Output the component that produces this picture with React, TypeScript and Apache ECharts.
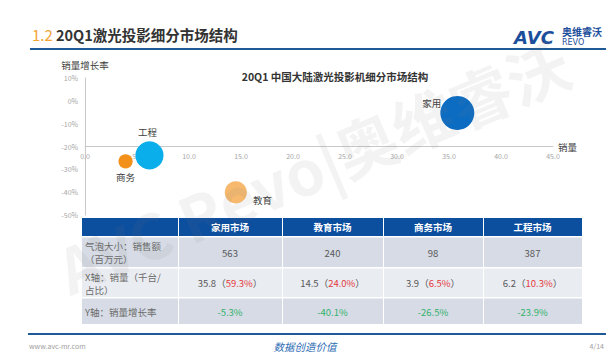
import React, { useEffect, useRef } from "react";
import * as echarts from "echarts";

const markets = ["家用", "教育", "商务", "工程"];
const tableHeaders = ["家用市场", "教育市场", "商务市场", "工程市场"];
const salesVolume = [35.8, 14.5, 3.9, 6.2]; // 千台
const volumeShare = ["59.3%", "24.0%", "6.5%", "10.3%"];
const growthRate = [-5.3, -40.1, -26.5, -23.9]; // %
const salesRevenue = [563, 240, 98, 387]; // 百万元
const rowTitles = [
  ["气泡大小：销售额", "（百万元）"],
  ["X轴：销量（千台/", "占比）"],
  ["Y轴：销量增长率"],
];
const xTicks = { min: 0, max: 45, interval: 5 };
const yTicks = { min: -50, max: 10, interval: 10 };

const bubbleColors = ["#0B6CC2", "#F6B96E", "#F39019", "#0AAEEA"];
const FONT = "'Noto Sans CJK SC', 'Noto Sans', sans-serif";

export default function App() {
  const ref = useRef<HTMLDivElement>(null);
  useEffect(() => {
    if (!ref.current) return;
    const chart = echarts.init(ref.current, null, { renderer: "svg" });

    const labelPos: any[] = [
      { position: "left", distance: -1, offset: [0, -10] },
      { position: "right", distance: 6, offset: [0, 8] },
      { position: "bottom", distance: 4, offset: [0, 0] },
      { position: "top", distance: 5, offset: [-2, 0] },
    ];

    const series = markets.map((m, i) => ({
      type: "scatter",
      name: m,
      data: [[salesVolume[i], growthRate[i], salesRevenue[i]]],
      symbolSize: (d: number[]) => Math.sqrt(d[2]) * 1.43,
      itemStyle: { color: bubbleColors[i], opacity: 1 },
      label: {
        show: true,
        formatter: m,
        color: "#404040",
        fontSize: 9.5,
        fontFamily: FONT,
        ...labelPos[i],
      },
      z: 3,
    }));

    // table geometry
    const colX = [82, 178, 282, 383, 483, 582];
    const rowY = [218, 236, 267, 297, 324];
    const rowBg = ["#D6DBE5", "#E9ECF1", "#D6DBE5"];
    const g: any[] = [];
    for (let c = 0; c < 5; c++) {
      g.push({
        type: "rect",
        shape: { x: colX[c] + (c ? 1 : 0), y: rowY[0], width: colX[c + 1] - colX[c] - (c ? 1 : 0), height: rowY[1] - rowY[0] },
        style: { fill: "#0D4F9F" },
      });
      if (c > 0) {
        g.push({
          type: "text",
          x: (colX[c] + colX[c + 1]) / 2,
          y: (rowY[0] + rowY[1]) / 2,
          style: { text: tableHeaders[c - 1], fill: "#fff", fontSize: 9.5, fontWeight: "bold", fontFamily: FONT, align: "center", verticalAlign: "middle" },
        });
      }
    }
    for (let r = 0; r < 3; r++) {
      for (let c = 0; c < 5; c++) {
        g.push({
          type: "rect",
          shape: { x: colX[c] + (c ? 1 : 0), y: rowY[r + 1] + 1.5, width: colX[c + 1] - colX[c] - (c ? 1 : 0), height: rowY[r + 2] - rowY[r + 1] - 1.5 },
          style: { fill: rowBg[r] },
        });
      }
      const lines = rowTitles[r];
      const cy = (rowY[r + 1] + rowY[r + 2]) / 2 + 1;
      lines.forEach((t, li) => {
        g.push({
          type: "text",
          x: 85,
          y: cy + (lines.length === 2 ? (li === 0 ? -6.5 : 6.5) : 0),
          style: { text: t, fill: "#6B6B6B", fontSize: 9.5, fontFamily: FONT, align: "left", verticalAlign: "middle" },
        });
      });
      for (let c = 1; c < 5; c++) {
        const i = c - 1;
        let text = "";
        if (r === 0) text = `{a|${salesRevenue[i]}}`;
        if (r === 1) text = `{a|${salesVolume[i].toFixed(1)}（}{r|${volumeShare[i]}}{a|）}`;
        if (r === 2) text = `{gr|${growthRate[i].toFixed(1)}%}`;
        g.push({
          type: "text",
          x: (colX[c] + colX[c + 1]) / 2,
          y: cy,
          style: {
            text,
            align: "center",
            verticalAlign: "middle",
            fontFamily: FONT,
            fontSize: 9.5,
            rich: {
              a: { fill: "#595959", fontSize: 9.5, fontFamily: FONT },
              r: { fill: "#E4393C", fontSize: 9.5, fontFamily: FONT },
              gr: { fill: "#34B26C", fontSize: 9.5, fontFamily: FONT },
            },
          },
        });
      }
    }

    const option: any = {
      animation: false,
      backgroundColor: "#ffffff",
      title: {
        text: "20Q1 中国大陆激光投影机细分市场结构",
        left: 330,
        top: 66,
        textAlign: "center",
        textStyle: { fontSize: 10.5, fontWeight: "bold", color: "#333", fontFamily: FONT },
      },
      grid: { left: 85, top: 78, width: 468, height: 137, containLabel: false },
      xAxis: {
        type: "value",
        ...xTicks,
        offset: -68.5,
        name: "销量",
        nameGap: 5,
        nameTextStyle: { fontSize: 9.5, color: "#404040", fontFamily: FONT },
        axisLine: { show: true, lineStyle: { color: "#C8C8C8", width: 1 } },
        axisTick: { show: false },
        splitLine: { show: false },
        axisLabel: { fontSize: 7, color: "#A6A6A6", margin: 6, formatter: (v: number) => v.toFixed(1), fontFamily: FONT },
      },
      yAxis: {
        type: "value",
        ...yTicks,
        name: "销量增长率",
        nameGap: 8,
        nameTextStyle: { fontSize: 9.5, color: "#404040", fontFamily: FONT, align: "center" },
        axisLine: { show: true, lineStyle: { color: "#C8C8C8", width: 1 } },
        axisTick: { show: false },
        splitLine: { show: false },
        axisLabel: { fontSize: 7, color: "#A6A6A6", margin: 7, formatter: (v: number) => `${v}%`, fontFamily: FONT },
      },
      series,
      graphic: [
        // header
        { type: "text", x: 32, y: 34, style: { text: "1.2", fill: "#F2A43A", fontSize: 15, fontFamily: FONT, verticalAlign: "middle" } },
        { type: "text", x: 56, y: 34, style: { text: "20Q1激光投影细分市场结构", fill: "#333", fontSize: 14.5, fontWeight: "bold", fontFamily: FONT, verticalAlign: "middle" } },
        { type: "rect", shape: { x: 30, y: 48, width: 576, height: 2 }, style: { fill: "#1F5A96" } },
        { type: "text", x: 514, y: 37, style: { text: "AVC", fill: "#1B4E9B", fontSize: 18, fontWeight: "bold", fontStyle: "italic", fontFamily: "DejaVu Sans", verticalAlign: "middle" } },
        { type: "text", x: 562, y: 31, style: { text: "奥维睿沃", fill: "#1B4E9B", fontSize: 10, fontWeight: "bold", fontFamily: FONT, verticalAlign: "middle" } },
        { type: "text", x: 562, y: 42, style: { text: "REVO", fill: "#1B4E9B", fontSize: 8, fontFamily: "DejaVu Sans", verticalAlign: "middle" } },
        // table
        ...g,
        // footer
        { type: "rect", shape: { x: 28, y: 333, width: 578, height: 2 }, style: { fill: "#1F5A96" } },
        { type: "text", x: 29, y: 346, style: { text: "www.avc-mr.com", fill: "#A0A0A0", fontSize: 7, fontFamily: FONT, verticalAlign: "middle" } },
        { type: "text", x: 305, y: 346, style: { text: "数据创造价值", fill: "#2E6DB4", fontSize: 10.5, fontStyle: "italic", fontFamily: "'Noto Sans CJK SC'", align: "center", verticalAlign: "middle" } },
        { type: "text", x: 604, y: 346, style: { text: "4/14", fill: "#A0A0A0", fontSize: 7, fontFamily: FONT, align: "right", verticalAlign: "middle" } },
        // watermark
        {
          type: "text",
          x: 72,
          y: 300,
          rotation: 0.4,
          z: 100,
          silent: true,
          style: { text: "AVC Revo|奥维睿沃", fill: "rgba(120,120,120,0.09)", fontSize: 62, fontWeight: "bold", fontFamily: FONT, align: "left", verticalAlign: "bottom" },
        },
      ],
    };
    chart.setOption(option);
    return () => chart.dispose();
  }, []);
  return <div ref={ref} style={{ position: "fixed", left: 0, top: 0, width: 613, height: 357 }} />;
}
